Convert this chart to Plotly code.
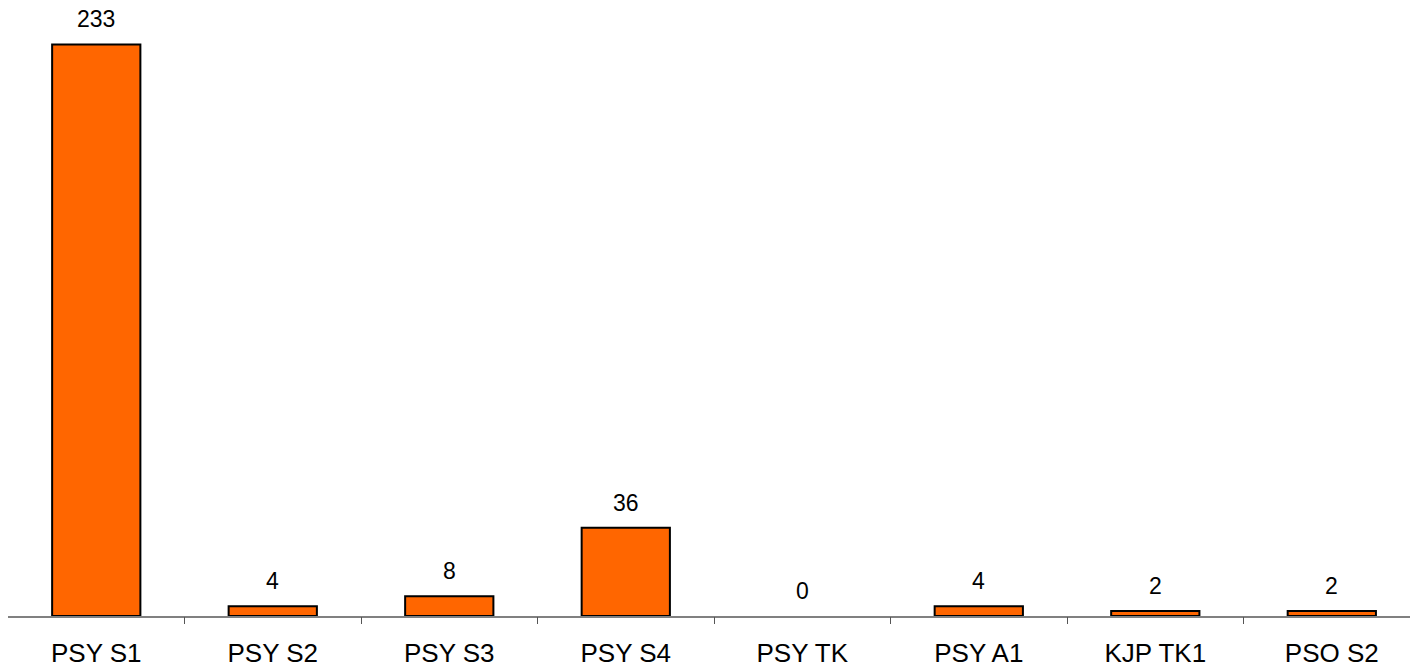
import plotly.graph_objects as go

categories = ["PSY S1", "PSY S2", "PSY S3", "PSY S4", "PSY TK", "PSY A1", "KJP TK1", "PSO S2"]
values = [233, 4, 8, 36, 0, 4, 2, 2]

xs = list(range(len(categories)))
boundaries = [i + 0.5 for i in range(len(categories) - 1)]
outline_widths = [2 if v > 0 else 0 for v in values]

fig = go.Figure()
fig.add_trace(go.Bar(
    x=xs, y=values,
    marker=dict(color="#FF6600", line=dict(color="#000000", width=outline_widths)),
    width=0.5,
    hoverinfo="skip",
))

for xi, v in zip(xs, values):
    fig.add_annotation(x=xi, y=v, text=str(v), showarrow=False,
                       yanchor="middle", yshift=25,
                       font=dict(family="Liberation Sans, Arial", size=23, color="#000000"))

xrange = [-0.5, 7.443]
fig.update_layout(
    width=1410, height=668,
    margin=dict(l=8, r=0, t=0, b=52),
    paper_bgcolor="white", plot_bgcolor="white",
    showlegend=False,
    font=dict(family="Liberation Sans, Arial", size=26, color="#000000"),
    xaxis=dict(range=xrange, tickmode="array", tickvals=xs, ticktext=categories,
               showgrid=False, zeroline=False, showline=True, linecolor="#808080", linewidth=2,
               ticks="outside", ticklen=13, tickcolor="rgba(0,0,0,0)",
               tickfont=dict(size=26)),
    xaxis2=dict(range=xrange, overlaying="x", side="bottom", tickmode="array",
                tickvals=boundaries, showticklabels=False, showgrid=False, zeroline=False,
                showline=False, ticks="outside", ticklen=7, tickwidth=1, tickcolor="#555555"),
    yaxis=dict(range=[0, 251.1], visible=False, showgrid=False, zeroline=False),
)
fig.add_trace(go.Scatter(x=[None], y=[None], xaxis="x2", showlegend=False, hoverinfo="skip"))

fig.write_html("out.html")
